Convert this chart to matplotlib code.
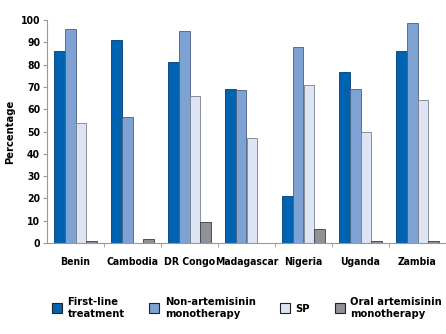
import numpy as np
import matplotlib.pyplot as plt
from matplotlib.patches import Patch

countries = ["Benin", "Cambodia", "DR Congo", "Madagascar", "Nigeria", "Uganda", "Zambia"]
first_line = [86, 91, 81, 69, 21, 76.5, 86]
non_artemisinin = [96, 56.5, 95, 68.5, 88, 69, 98.5]
sp = [54, 0, 66, 47, 71, 50, 64]
oral_artemisinin = [1, 2, 9.5, 0, 6.5, 1, 1]

series = [
    ("First-line\ntreatment", first_line, "#0063b1", "#003d73"),
    ("Non-artemisinin\nmonotherapy", non_artemisinin, "#7fa2d5", "#4a5f80"),
    ("SP", sp, "#dde4f3", "#7a7f88"),
    ("Oral artemisinin\nmonotherapy", oral_artemisinin, "#8e9196", "#3c3d40"),
]

plt.rcParams["font.family"] = ["DejaVu Sans"]
plt.rcParams["font.stretch"] = "condensed"
plt.rcParams["font.weight"] = "bold"

fig = plt.figure(figsize=(4.46, 3.34), dpi=100)
ax = fig.add_axes([47 / 446, 1 - 243 / 334, 399 / 446, 223 / 334])

x = np.arange(len(countries))
w = 0.19
offsets = (np.arange(4) - 1.5) * w
handles = []
for (label, vals, color, edge), off in zip(series, offsets):
    ax.bar(x + off, vals, width=w, color=color, edgecolor=edge, linewidth=0.6)
    handles.append(Patch(facecolor=color, edgecolor="#222222", linewidth=0.8, label=label))

ax.set_xlim(-0.5, len(countries) - 0.5)
ax.set_ylim(0, 100)
ax.set_yticks(np.arange(0, 101, 10))
ax.set_xticks(x)
ax.set_xticklabels(countries, fontsize=7.5)
ax.set_xticks(np.arange(0.5, len(countries) - 0.5, 1), minor=True)
ax.tick_params(axis="x", which="major", length=0, pad=10)
ax.tick_params(axis="x", which="minor", length=3, color="#999999", direction="out")
ax.tick_params(axis="y", length=3, color="#999999", labelsize=7.5, pad=2)
ax.set_ylabel("Percentage", fontsize=8, fontweight="bold", labelpad=4)

for s in ["top", "right"]:
    ax.spines[s].set_visible(False)
for s in ["left", "bottom"]:
    ax.spines[s].set_color("#999999")
    ax.spines[s].set_linewidth(0.8)

fig.legend(handles=handles, loc="upper left", bbox_to_anchor=(42 / 446, 1 - 287 / 334),
           ncol=4, frameon=False, fontsize=8, handlelength=0.9, handleheight=0.9,
           handletextpad=0.5, columnspacing=2.2, labelspacing=0.2)

fig.savefig("out.png", dpi=100)
